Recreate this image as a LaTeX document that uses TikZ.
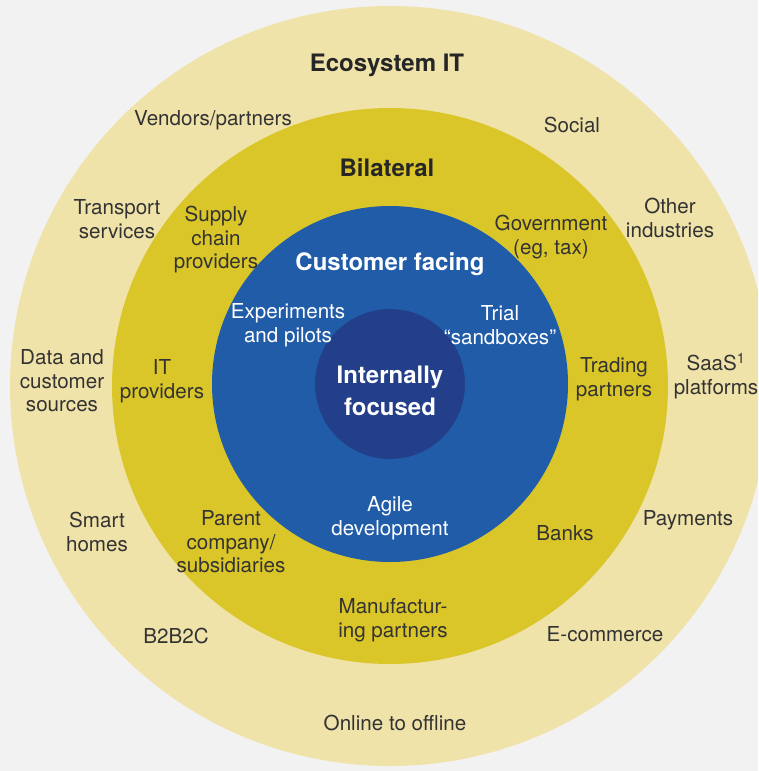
\documentclass[tikz,border=0pt]{standalone}
\usepackage{fontspec}
\setmainfont{TeX Gyre Heros}
\definecolor{bgc}{HTML}{F2F2F2}
\definecolor{ecoc}{HTML}{F0E3AA}
\definecolor{bilc}{HTML}{DBC62A}
\definecolor{custc}{HTML}{215CA8}
\definecolor{intc}{HTML}{233F8A}
\definecolor{txt}{HTML}{333333}
\tikzset{
  ring/.style={circle, inner sep=0pt, draw=none},
  lbl/.style={inner sep=0pt, align=center, text=txt, font=\fontsize{20.6}{23.5}\selectfont},
  wlbl/.style={lbl, text=white},
  ttl/.style={inner sep=0pt, align=center, text=black!85, font=\fontsize{24}{32}\selectfont\bfseries},
  wttl/.style={ttl, text=white}
}
\begin{document}
\begin{tikzpicture}[x=1pt,y=-1pt]
\useasboundingbox (0,0) rectangle (758,771);
\clip (0,0) rectangle (758,771);
\fill[bgc] (0,0) rectangle (758,771);
\node[ring, fill=ecoc, minimum size=760pt] (eco) at (390,386) {};
\node[ring, fill=bilc, minimum size=556pt] (bil) at (390,386) {};
\node[ring, fill=custc, minimum size=356pt] (cust) at (390,384) {};
\node[ring, fill=intc, minimum size=150pt] (int) at (390,384) {};

\node[ttl] (tEco) at (387,65) {Ecosystem IT};
\node[ttl] (tBil) at (387,168) {Bilateral};
\node[wttl] (tCust) at (390,264) {Customer facing};
\node[wttl] (tInt) at (390,391) {Internally\\focused};

\node[lbl] (vend) at (213,120) {Vendors/partners};
\node[lbl] (soc) at (572,125) {Social};
\node[lbl] (trans) at (117,219) {Transport\\services};
\node[lbl] (other) at (670,218) {Other\\industries};
\node[lbl] (data) at (62,381) {Data and\\customer\\sources};
\node[lbl] (saas) at (716,376) {SaaS\textsuperscript{1}\\platforms};
\node[lbl] (smart) at (97,532) {Smart\\homes};
\node[lbl] (pay) at (688,520) {Payments};
\node[lbl] (b2b) at (176,636) {B2B2C};
\node[lbl] (ecom) at (605,634) {E-commerce};
\node[lbl] (o2o) at (395,723) {Online to offline};

\node[lbl] (supply) at (216,240) {Supply\\chain\\providers};
\node[lbl] (gov) at (551,237) {Government\\(eg, tax)};
\node[lbl] (itp) at (162,381) {IT\\providers};
\node[lbl] (trade) at (614,379) {Trading\\partners};
\node[lbl] (parent) at (231,542) {Parent\\company/\\subsidiaries};
\node[lbl] (banks) at (565,533) {Banks};
\node[lbl] (manu) at (393,620) {Manufactur-\\ing partners};

\node[wlbl] (exp) at (288,325) {Experiments\\and pilots};
\node[wlbl] (trial) at (500,325) {Trial\\“sandboxes”};
\node[wlbl] (agile) at (390,518) {Agile\\development};
\end{tikzpicture}
\end{document}
